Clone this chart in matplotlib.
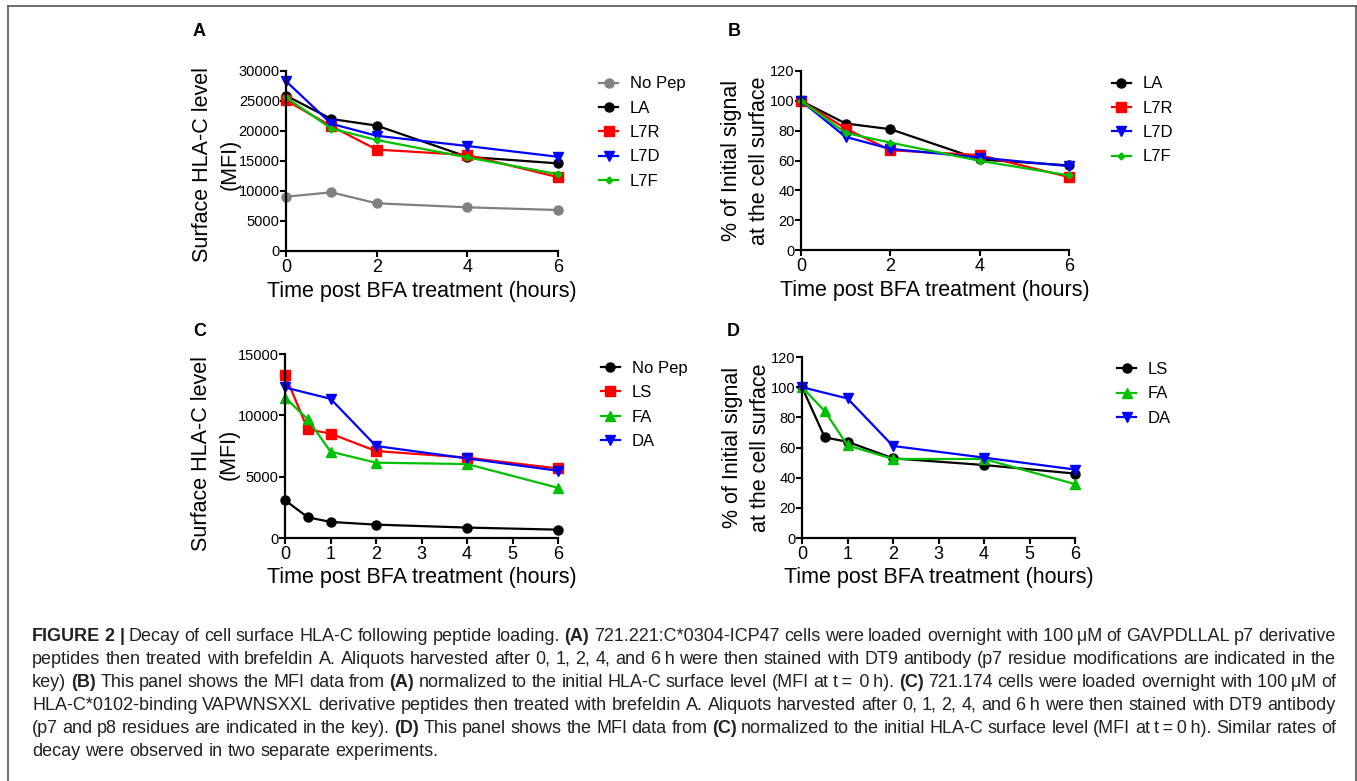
import matplotlib
matplotlib.use("Agg")
import matplotlib.pyplot as plt
from matplotlib.lines import Line2D

W, H = 1357, 781

# ---- data ----
hours_ab = [0, 1, 2, 4, 6]
hours_cd = [0, 0.5, 1, 2, 4, 6]
hours_da = [0, 1, 2, 4, 6]

a_nopep = [9050, 9780, 7950, 7280, 6830]
a_la = [25900, 22000, 20900, 15700, 14600]
a_l7r = [25100, 20800, 16900, 16000, 12300]
a_l7d = [28300, 21200, 19200, 17500, 15700]
a_l7f = [25600, 20400, 18500, 15600, 12800]

b_la = [100, 84.8, 81.0, 60.7, 56.7]
b_l7r = [100, 81.4, 66.9, 63.6, 48.9]
b_l7d = [100, 75.8, 67.8, 62.0, 56.2]
b_l7f = [100, 78.5, 72.0, 59.8, 50.0]

c_nopep = [3080, 1690, 1310, 1090, 850, 680]
c_ls = [13300, 8860, 8510, 7090, 6550, 5670]
c_fa = [11450, 9680, 7040, 6140, 6030, 4090]
c_da = [12270, 11350, 7500, 6490, 5480]

d_ls = [100, 66.7, 63.8, 52.8, 48.4, 42.7]
d_fa = [100, 84.1, 61.4, 52.4, 52.4, 35.7]
d_da = [100, 92.5, 61.0, 53.3, 45.4]

mfi_ticks_a = [0, 5000, 10000, 15000, 20000, 25000, 30000]
mfi_ticks_c = [0, 5000, 10000, 15000]
pct_ticks = [0, 20, 40, 60, 80, 100, 120]
x_ticks_ab = [0, 2, 4, 6]
x_ticks_cd = [0, 1, 2, 3, 4, 5, 6]

XLABEL = "Time post BFA treatment (hours)"
YLABEL_MFI = "Surface HLA-C level\n(MFI)"
YLABEL_PCT = "% of Initial signal\nat the cell surface"

GREY = "#808080"
RED = "#ff0000"
BLUE = "#0000ff"
GREEN = "#00c000"
BLACK = "#000000"

CAPTION = [
    "**FIGURE 2 |** Decay of cell surface HLA-C following peptide loading. **(A)** 721.221:C*0304-ICP47 cells were loaded overnight with 100\u2009\u03bcM of GAVPDLLAL p7 derivative",
    "peptides then treated with brefeldin A. Aliquots harvested after 0, 1, 2, 4, and 6\u2009h were then stained with DT9 antibody (p7 residue modifications are indicated in the",
    "key) **(B)** This panel shows the MFI data from **(A)** normalized to the initial HLA-C surface level (MFI at t\u2009=\u2009\u20090\u2009h). **(C)** 721.174 cells were loaded overnight with 100\u2009\u03bcM of",
    "HLA-C*0102-binding VAPWNSXXL derivative peptides then treated with brefeldin A. Aliquots harvested after 0, 1, 2, 4, and 6\u2009h were then stained with DT9 antibody",
    "(p7 and p8 residues are indicated in the key). **(D)** This panel shows the MFI data from **(C)** normalized to the initial HLA-C surface level (MFI at t\u2009=\u20090\u2009h). Similar rates of",
    "decay were observed in two separate experiments.",
]

SANS = ["Liberation Sans", "DejaVu Sans"]
plt.rcParams["font.family"] = SANS


def px_box(left, top, right, bottom):
    return [left / W, 1 - bottom / H, (right - left) / W, (bottom - top) / H]


def style_axes(ax, xticks, yticks, ylabel, ylab_x, ylab_y):
    for s in ("top", "right"):
        ax.spines[s].set_visible(False)
    for s in ("left", "bottom"):
        ax.spines[s].set_linewidth(1.6)
    ax.set_xlim(0, 6)
    ax.set_ylim(yticks[0], yticks[-1])
    ax.set_xticks(xticks)
    ax.set_yticks(yticks)
    ax.set_xticklabels([str(t) for t in xticks], fontsize=13)
    ax.set_yticklabels([str(t) for t in yticks], fontsize=10.5)
    ax.tick_params(axis="y", length=4, width=1.5, pad=0.5)
    ax.tick_params(axis="x", length=4, width=1.5, pad=2)
    ax.set_xlabel(XLABEL, fontsize=15.5, labelpad=3)
    ax.set_ylabel(YLABEL_MFI if ylabel == "mfi" else YLABEL_PCT, fontsize=15.5, linespacing=1.45)
    ax.yaxis.set_label_coords(ylab_x, ylab_y)


def series(ax, x, y, color, marker, label, ms=6.5):
    ax.plot(x, y, color=color, marker=marker, markersize=ms, linewidth=1.6,
            label=label, clip_on=False)


def legend(ax, ax_x, ax_y):
    return ax.legend(loc="upper left", bbox_to_anchor=(ax_x, ax_y), frameon=False,
                     handlelength=1.15, handletextpad=0.7, labelspacing=0.56,
                     borderpad=0, borderaxespad=0, numpoints=1,
                     prop={"size": 12})


fig = plt.figure(figsize=(W / 100, H / 100), dpi=100)

# Panel A
ax_a = fig.add_axes(px_box(286, 71, 558, 251))
series(ax_a, hours_ab, a_nopep, GREY, "o", "No Pep")
series(ax_a, hours_ab, a_la, BLACK, "o", "LA")
series(ax_a, hours_ab, a_l7r, RED, "s", "L7R")
series(ax_a, hours_ab, a_l7d, BLUE, "v", "L7D")
series(ax_a, hours_ab, a_l7f, GREEN, "D", "L7F", ms=3.5)
style_axes(ax_a, x_ticks_ab, mfi_ticks_a, "mfi", -0.165, 0.48)
legend(ax_a, 1.151, 0.970)

# Panel B
ax_b = fig.add_axes(px_box(801, 71, 1069, 250))
series(ax_b, hours_ab, b_la, BLACK, "o", "LA")
series(ax_b, hours_ab, b_l7r, RED, "s", "L7R")
series(ax_b, hours_ab, b_l7d, BLUE, "v", "L7D")
series(ax_b, hours_ab, b_l7f, GREEN, "D", "L7F", ms=3.5)
style_axes(ax_b, x_ticks_ab, pct_ticks, "pct", -0.114, 0.5)
legend(ax_b, 1.160, 0.970)

# Panel C
ax_c = fig.add_axes(px_box(285, 354, 558, 538))
series(ax_c, hours_cd, c_nopep, BLACK, "o", "No Pep")
series(ax_c, hours_cd, c_ls, RED, "s", "LS")
series(ax_c, hours_cd, c_fa, GREEN, "^", "FA")
series(ax_c, hours_da, c_da, BLUE, "v", "DA")
style_axes(ax_c, x_ticks_cd, mfi_ticks_c, "mfi", -0.165, 0.457)
legend(ax_c, 1.157, 0.962)

# Panel D
ax_d = fig.add_axes(px_box(802, 357, 1075, 538))
series(ax_d, hours_cd, d_ls, BLACK, "o", "LS")
series(ax_d, hours_cd, d_fa, GREEN, "^", "FA")
series(ax_d, hours_da, d_da, BLUE, "v", "DA")
style_axes(ax_d, x_ticks_cd, pct_ticks, "pct", -0.114, 0.5)
legend(ax_d, 1.154, 0.972)

# panel letters
for letter, x, y in (("A", 193, 32), ("B", 728, 32), ("C", 193, 332), ("D", 727, 331)):
    fig.text(x / W, 1 - y / H, letter, fontsize=13, weight="bold", va="center", ha="left")

# grey frame round the figure
frame = dict(color="#555555", linewidth=1.2, transform=fig.transFigure)
fig.add_artist(Line2D([7.5 / W, 7.5 / W], [0, 1 - 6 / H], **frame))
fig.add_artist(Line2D([7.5 / W, 1355.5 / W], [1 - 6 / H, 1 - 6 / H], **frame))
fig.add_artist(Line2D([1355.5 / W, 1355.5 / W], [0, 1 - 6 / H], **frame))

# caption, justified line by line
renderer = fig.canvas.get_renderer()
cap_left, cap_right = 32, 1336
base = 641
cap_size = 13
for i, line in enumerate(CAPTION):
    words = []
    bold = False
    for w in line.split(" "):
        if w.startswith("**"):
            bold = True
            w = w[2:]
        is_bold = bold
        if w.endswith("**"):
            w = w[:-2]
            bold = False
        words.append((w, is_bold))
    texts = [fig.text(0, 1 - (base + i * 23) / H, w, fontsize=cap_size,
                      weight="bold" if b else "normal", va="baseline", ha="left",
                      color="#222222")
             for w, b in words]
    widths = [t.get_window_extent(renderer).width for t in texts]
    if i < len(CAPTION) - 1:
        gap = (cap_right - cap_left - sum(widths)) / (len(texts) - 1)
    else:
        gap = cap_size * 100 / 72 * 0.278
    x = cap_left
    for t, wd in zip(texts, widths):
        t.set_x(x / W)
        x += wd + gap

fig.savefig("out.png", dpi=100)
